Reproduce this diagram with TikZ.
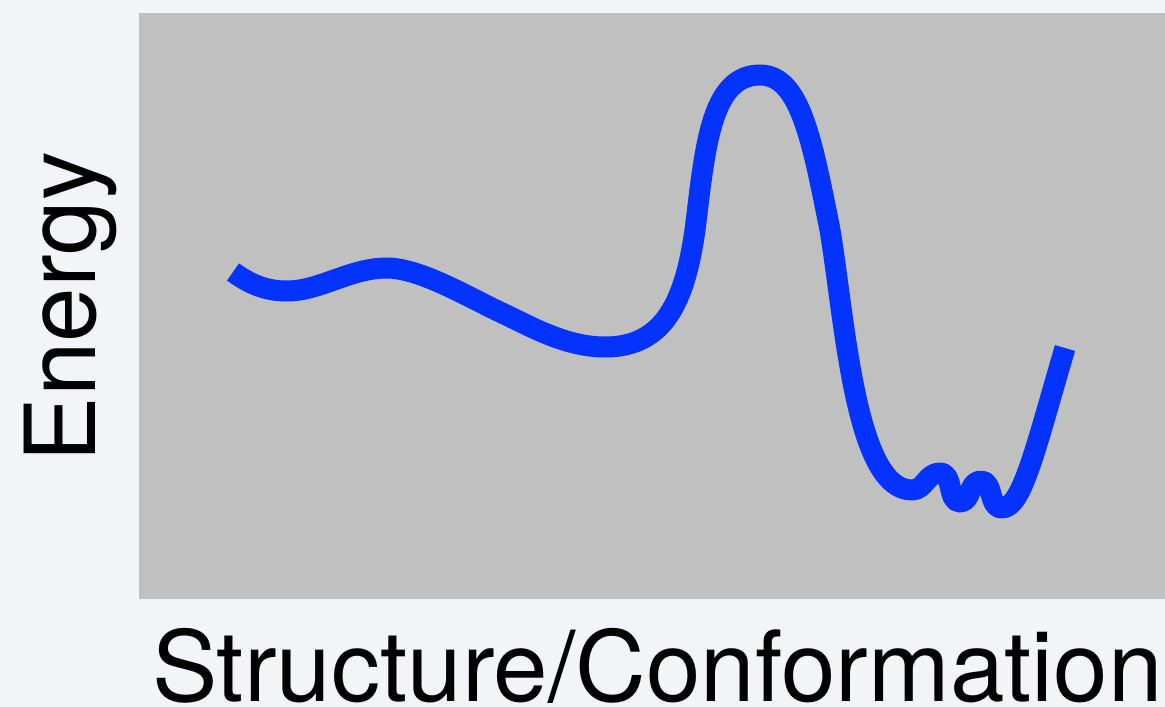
\documentclass[tikz,border=0pt]{standalone}
\usepackage{fontspec}
\setmainfont{TeX Gyre Heros}
\definecolor{pagebg}{HTML}{F3F4F7}
\definecolor{panelbg}{HTML}{C0C0C0}
\definecolor{curveblue}{HTML}{0433FF}
\begin{document}
\begin{tikzpicture}[x=1pt,y=-1pt,
  lbl/.style={inner sep=0pt,outer sep=0pt,font=\fontsize{98}{100}\selectfont,text=black},
  energycurve/.style={draw=curveblue,line width=21pt,line join=round}]
\fill[pagebg] (0,0) rectangle (1165,707);
\useasboundingbox (0,0) rectangle (1165,707);
\fill[panelbg] (139,13) rectangle (1165,599);
\draw[energycurve] (233,272)
  .. controls (250,284) and (265,291) .. (287,291)
  .. controls (320,291) and (350,268) .. (387,268)
  .. controls (420,268) and (470,298) .. (500,312)
  .. controls (530,326) and (565,347) .. (605,347)
  .. controls (665,347) and (685,300) .. (695,230)
  .. controls (705,150) and (710,75) .. (760,75)
  .. controls (800,75) and (812,140) .. (830,230)
  .. controls (845,320) and (855,490) .. (912,490)
  .. controls (925,490) and (926,473) .. (940,473)
  .. controls (954,473) and (947,502) .. (960,502)
  .. controls (972,502) and (968,481) .. (981,481)
  .. controls (994,481) and (988,508) .. (1002,508)
  .. controls (1022,508) and (1035,450) .. (1065,348);
\node[lbl,anchor=base west,rotate=90] (ylab) at (95,462) {Energy};
\node[lbl,anchor=base west] (xlab) at (152,701) {Structure/Conformation};
\end{tikzpicture}
\end{document}
